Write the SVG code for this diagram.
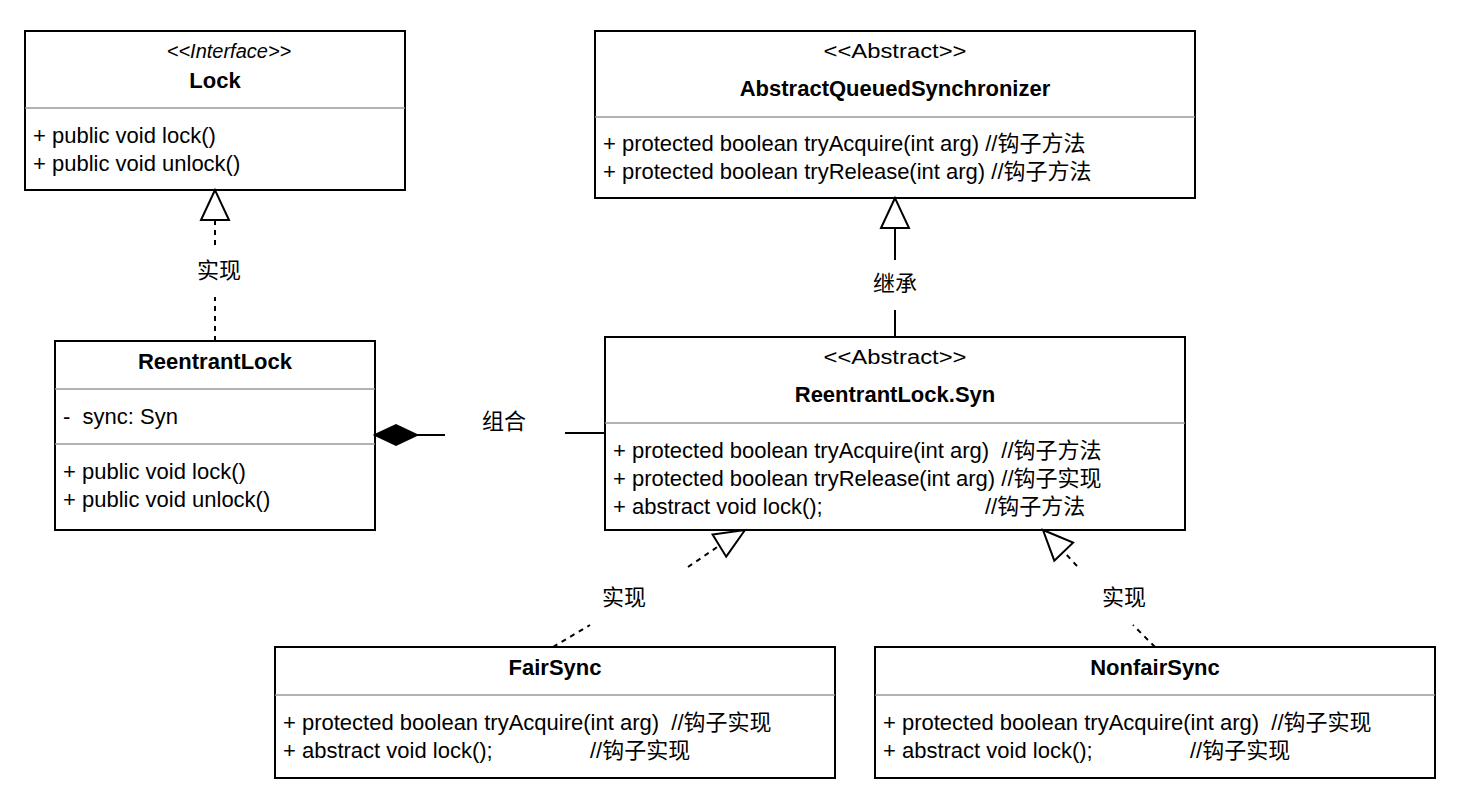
<svg xmlns="http://www.w3.org/2000/svg" width="1459" height="806" viewBox="0 0 1459 806">
<style>
.box{fill:#fff;stroke:#000;stroke-width:2}
.sep{stroke:#999;stroke-width:1.5}
text{font-family:"Liberation Sans","Noto Sans CJK SC",sans-serif;font-size:22px;fill:#000}
.st{font-size:20px;text-anchor:middle}
.nm{font-weight:bold;text-anchor:middle}
.lb{text-anchor:middle}
.ln{stroke:#000;stroke-width:2;fill:none}
.d{stroke-dasharray:5,5}
.tri{fill:#fff;stroke:#000;stroke-width:2}
</style>
<rect width="1459" height="806" fill="#fff"/>
<g id="Lock">
<rect class="box" x="25" y="31" width="380" height="159"/>
<line class="sep" x1="25" y1="108" x2="405" y2="108"/>
<text class="st" x="229" y="58" font-style="italic">&lt;&lt;Interface&gt;&gt;</text>
<text class="nm" x="215" y="88">Lock</text>
<text x="33" y="143">+ public void lock()</text>
<text x="33" y="171">+ public void unlock()</text>
</g>
<g id="AQS">
<rect class="box" x="595" y="31" width="600" height="167"/>
<line class="sep" x1="595" y1="117" x2="1195" y2="117"/>
<text class="st" x="895" y="58" textLength="143" lengthAdjust="spacingAndGlyphs">&lt;&lt;Abstract&gt;&gt;</text>
<text class="nm" x="895" y="96">AbstractQueuedSynchronizer</text>
<text x="603" y="151">+ protected boolean tryAcquire(int arg) //钩子方法</text>
<text x="603" y="179">+ protected boolean tryRelease(int arg) //钩子方法</text>
</g>
<g id="ReentrantLock">
<rect class="box" x="55" y="341" width="320" height="189"/>
<line class="sep" x1="55" y1="389" x2="375" y2="389"/>
<line class="sep" x1="55" y1="444" x2="375" y2="444"/>
<text class="nm" x="215" y="369">ReentrantLock</text>
<text x="63" y="424" xml:space="preserve">-  sync: Syn</text>
<text x="63" y="479">+ public void lock()</text>
<text x="63" y="507">+ public void unlock()</text>
</g>
<g id="Syn">
<rect class="box" x="605" y="337" width="580" height="193"/>
<line class="sep" x1="605" y1="423" x2="1185" y2="423"/>
<text class="st" x="895" y="364" textLength="143" lengthAdjust="spacingAndGlyphs">&lt;&lt;Abstract&gt;&gt;</text>
<text class="nm" x="895" y="402">ReentrantLock.Syn</text>
<text x="613" y="458" xml:space="preserve">+ protected boolean tryAcquire(int arg)  //钩子方法</text>
<text x="613" y="486">+ protected boolean tryRelease(int arg) //钩子实现</text>
<text x="613" y="514">+ abstract void lock();</text>
<text x="985" y="514">//钩子方法</text>
</g>
<g id="FairSync">
<rect class="box" x="275" y="647" width="560" height="131"/>
<line class="sep" x1="275" y1="695" x2="835" y2="695"/>
<text class="nm" x="555" y="675">FairSync</text>
<text x="283" y="730" xml:space="preserve">+ protected boolean tryAcquire(int arg)  //钩子实现</text>
<text x="283" y="758">+ abstract void lock();</text>
<text x="590" y="758">//钩子实现</text>
</g>
<g id="NonfairSync">
<rect class="box" x="875" y="647" width="560" height="131"/>
<line class="sep" x1="875" y1="695" x2="1435" y2="695"/>
<text class="nm" x="1155" y="675">NonfairSync</text>
<text x="883" y="730" xml:space="preserve">+ protected boolean tryAcquire(int arg)  //钩子实现</text>
<text x="883" y="758">+ abstract void lock();</text>
<text x="1190" y="758">//钩子实现</text>
</g>
<g id="connectors">
<path class="ln d" d="M215 341V297M215 245V220"/>
<polygon class="tri" points="215,190 201,220 229,220"/>
<text class="lb" x="219" y="278">实现</text>
<path class="ln" d="M895 337V310M895 260V228"/>
<polygon class="tri" points="895,198 881,228 909,228"/>
<text class="lb" x="895" y="291">继承</text>
<path class="ln" d="M417 435H445M565 433H605"/>
<polygon fill="#000" stroke="#000" stroke-width="2" points="375,435 396,425 417,435 396,445"/>
<text class="lb" x="504" y="429">组合</text>
<path class="ln d" d="M553 647L590 625M688 567L719.4 545.6"/>
<polygon class="tri" points="745,530 726.2,556.7 712.6,534.5"/>
<text class="lb" x="624" y="605">实现</text>
<path class="ln d" d="M1155 647L1133 625M1077 566L1063.7 551.7"/>
<polygon class="tri" points="1043,530 1073.1,542.7 1054.3,560.7"/>
<text class="lb" x="1124" y="605">实现</text>
</g>
</svg>
